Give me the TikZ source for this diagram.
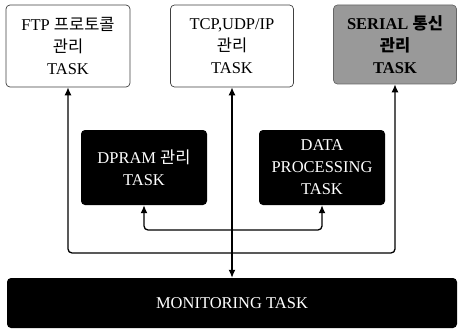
\documentclass[tikz,border=0pt]{standalone}
\usepackage{fontspec}
\setmainfont{Liberation Serif}
\newfontfamily\kr{Noto Sans CJK KR}
\usetikzlibrary{arrows.meta}

\tikzset{
    task/.style={rounded corners=4pt, align=center, inner sep=0pt,
        font=\fontsize{16.5}{22}\selectfont},
    whitetask/.style={task, draw=black!75, line width=0.7pt, fill=white},
    darktask/.style={task, fill=black, text=white},
    link/.style={line width=1.3pt, {Latex[length=8pt,width=7pt]}-{Latex[length=8pt,width=7pt]}},
}

\begin{document}
\begin{tikzpicture}[x=1pt,y=-1pt]
    \useasboundingbox (0,0) rectangle (458,329);
    % upper row
    \node[whitetask, minimum width=124pt, minimum height=82pt] (ftp) at (68,46)
        {FTP {\kr 프로토콜}\\{\kr 관리}\\TASK};
    \node[whitetask, minimum width=123pt, minimum height=82pt] (tcp) at (232,46)
        {TCP,UDP/IP\\{\kr 관리}\\TASK};
    \node[task, fill=black!40, draw=black!60, line width=0.7pt,
          minimum width=123pt, minimum height=79pt] (serial) at (395,44.5)
        {\textbf{SERIAL {\kr 통신}}\\{\kr\bfseries 관리}\\\textbf{TASK}};
    % middle row
    \node[darktask, minimum width=126pt, minimum height=75pt] (dpram) at (144,167.5)
        {DPRAM {\kr 관리}\\TASK};
    \node[darktask, minimum width=126pt, minimum height=75pt] (data) at (322,167.5)
        {DATA\\PROCESSING\\TASK};
    % bottom
    \node[darktask, minimum width=450pt, minimum height=50pt] (mon) at (232,303)
        {MONITORING TASK};
    % connectors
    \coordinate (lowbus) at (232,253);
    \coordinate (midbus) at (232,230);
    \draw[link, rounded corners=4pt] (ftp) |- (lowbus) -| (serial);
    \draw[link, rounded corners=4pt] (dpram) |- (midbus) -| (data);
    \draw[link] (tcp.south) -- (tcp.south |- mon.north);
\end{tikzpicture}
\end{document}
